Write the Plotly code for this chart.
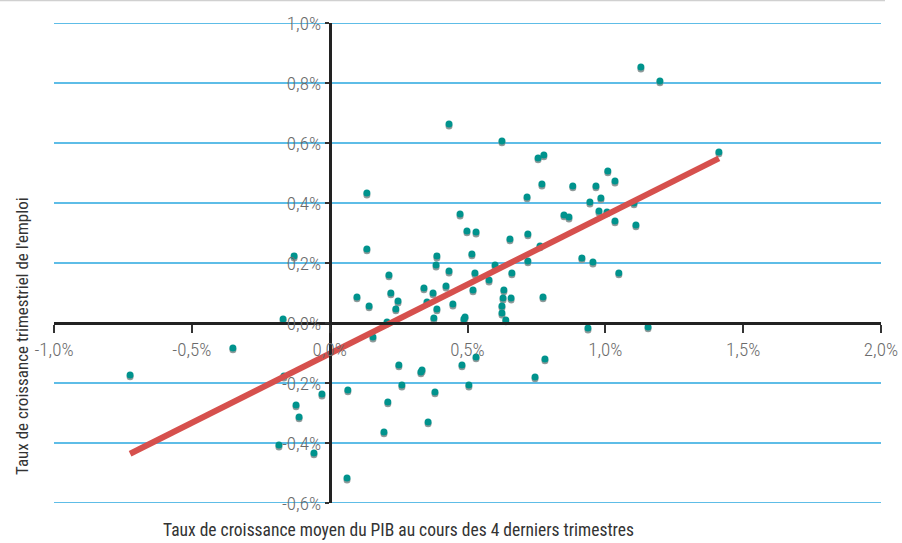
import plotly.graph_objects as go

# Growth of GDP (avg over last 4 quarters, %) vs quarterly employment growth (%)
gdp_growth = [
    -0.724, -0.351, -0.169, -0.129, -0.166, -0.028, -0.122, -0.111, -0.184, -0.057,
    0.066, 0.211, 0.197, 0.357, 0.382, 0.063, 0.135, 0.389, 0.516, 0.386,
    0.433, 0.215, 0.527, 0.600, 0.661, 0.719, 0.099, 0.143, 0.222, 0.248,
    0.240, 0.342, 0.375, 0.353, 0.422, 0.389, 0.378, 0.447, 0.520, 0.578,
    0.632, 0.629, 0.658, 0.625, 0.625, 0.639, 0.487, 0.491, 0.208, 0.157,
    0.251, 0.331, 0.335, 0.480, 0.531, 0.262, 0.505, 0.915, 0.955, 1.049,
    0.774, 0.937, 1.155, 0.781, 0.745, 0.756, 0.777, 1.412, 0.770, 1.009,
    1.035, 0.716, 0.882, 0.966, 0.984, 0.944, 1.104, 0.977, 1.006, 0.850,
    0.868, 1.035, 1.111, 0.719, 0.763, 0.433, 0.625, 0.135, 0.473, 0.498,
    0.531, 0.654, 1.129, 1.198,
]
emp_growth = [
    -0.173, -0.083, 0.013, 0.223, -0.177, -0.237, -0.273, -0.313, -0.407, -0.433,
    -0.223, -0.263, -0.363, -0.330, -0.230, -0.517, 0.247, 0.223, 0.230, 0.193,
    0.173, 0.160, 0.167, 0.193, 0.167, 0.207, 0.087, 0.057, 0.100, 0.073,
    0.047, 0.117, 0.100, 0.070, 0.123, 0.047, 0.017, 0.063, 0.110, 0.143,
    0.110, 0.083, 0.083, 0.057, 0.033, 0.010, 0.013, 0.020, 0.003, -0.047,
    -0.140, -0.163, -0.157, -0.140, -0.113, -0.207, -0.207, 0.217, 0.203, 0.167,
    0.087, -0.017, -0.013, -0.120, -0.180, 0.550, 0.560, 0.570, 0.463, 0.507,
    0.473, 0.420, 0.457, 0.457, 0.417, 0.403, 0.400, 0.373, 0.370, 0.360,
    0.353, 0.340, 0.327, 0.297, 0.257, 0.663, 0.607, 0.433, 0.363, 0.307,
    0.303, 0.280, 0.853, 0.807,
]

# Linear trend
trend_slope = 0.461
trend_intercept = -0.102

x_ticks = [-1.0, -0.5, 0.0, 0.5, 1.0, 1.5, 2.0]
x_tick_labels = ["-1,0%", "-0,5%", "0,0%", "0,5%", "1,0%", "1,5%", "2,0%"]
y_ticks = [-0.6, -0.4, -0.2, 0.0, 0.2, 0.4, 0.6, 0.8, 1.0]
y_tick_labels = ["-0,6%", "-0,4%", "-0,2%", "0,0%", "0,2%", "0,4%", "0,6%", "0,8%", "1,0%"]

x_title = "Taux de croissance moyen du PIB au cours des 4 derniers trimestres"
y_title = "Taux de croissance trimestriel de l'emploi"

FONT = "Roboto Condensed, Liberation Sans Narrow, sans-serif"
GRID = "#28a7df"

x_range = [-1.0, 2.0]
y_range = [-0.6, 1.0]

tx = [min(gdp_growth), max(gdp_growth)]
ty = [trend_intercept + trend_slope * v for v in tx]

shadow_dy = 0.006
fig = go.Figure()
fig.add_trace(go.Scatter(
    x=gdp_growth, y=[v - shadow_dy for v in emp_growth], mode="markers",
    marker=dict(size=7, color="#8f9a9a", line=dict(width=0)),
    hoverinfo="skip", showlegend=False,
))
fig.add_trace(go.Scatter(
    x=gdp_growth, y=emp_growth, mode="markers",
    marker=dict(size=7, color="#00938d", line=dict(width=0)),
    showlegend=False,
))
fig.add_trace(go.Scatter(
    x=tx, y=ty, mode="lines",
    line=dict(color="#d6504d", width=6),
    showlegend=False,
))

zero_x_frac = (0 - y_range[0]) / (y_range[1] - y_range[0])
zero_y_frac = (0 - x_range[0]) / (x_range[1] - x_range[0])

grid_shapes = [
    dict(type="line", xref="paper", yref="y", x0=0, x1=1, y0=v, y1=v,
         layer="below", line=dict(color=GRID, width=1.4))
    for v in y_ticks if v != 0
]

fig.update_layout(
    template="none",
    width=902, height=543,
    margin=dict(l=54, r=21, t=23, b=40),
    plot_bgcolor="white", paper_bgcolor="white",
    font=dict(family=FONT, size=18, color="#6b6b6b"),
    xaxis=dict(
        range=x_range, tickvals=x_ticks, ticktext=x_tick_labels,
        showgrid=False, zeroline=False, automargin=False,
        showline=True, linecolor="#222222", linewidth=2.5,
        ticks="outside", ticklen=8, tickwidth=1.5, tickcolor="#333333",
        anchor="free", position=zero_x_frac, ticklabeloverflow="allow",
        tickfont=dict(family=FONT, size=19, color="#6b6b6b", weight=300),
    ),
    yaxis=dict(
        range=y_range, tickvals=y_ticks, ticktext=y_tick_labels,
        showgrid=False, zeroline=False, automargin=False,
        showline=True, linecolor="#222222", linewidth=2.5,
        ticks="outside", ticklen=4, tickwidth=1.5, tickcolor="#333333",
        anchor="free", position=zero_y_frac, ticklabeloverflow="allow",
        tickfont=dict(family=FONT, size=19, color="#6b6b6b", weight=300),
    ),
    annotations=[
        dict(text=x_title, xref="paper", yref="paper", x=0.416, y=-0.056,
             showarrow=False, xanchor="center", yanchor="middle",
             font=dict(family=FONT, size=17.5, color="#333333")),
        dict(text=y_title, xref="paper", yref="paper", x=-0.0387, y=0.348,
             showarrow=False, xanchor="center", yanchor="middle", textangle=-90,
             font=dict(family=FONT, size=17, color="#333333")),
    ],
    shapes=grid_shapes + [
        dict(type="line", xref="paper", yref="paper",
             x0=-54 / 827, x1=831 / 827, y0=1 + 22.5 / 480, y1=1 + 22.5 / 480,
             line=dict(color="#d0d0d0", width=1.5)),
    ],
)

fig.write_html("out.html")
